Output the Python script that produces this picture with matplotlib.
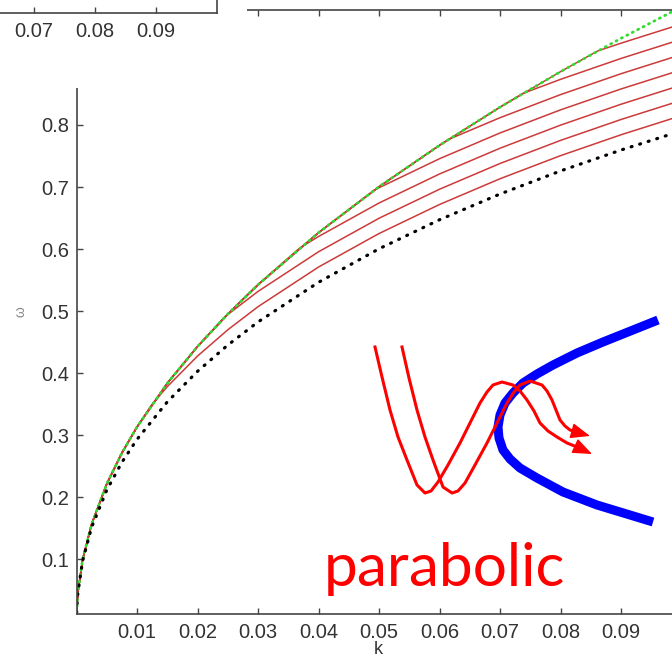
#Dispersion curves with a parabolic-caustic sketch on top.
import matplotlib
matplotlib.use("Agg")
import matplotlib.pyplot as plt
from matplotlib.patches import Rectangle

#Wavenumber samples read along the k axis.
k = [0.00002, 0.0002, 0.001, 0.0025, 0.005, 0.0075, 0.01, 0.015, 0.02, 0.025,
     0.03, 0.04, 0.05, 0.06, 0.07, 0.08, 0.09, 0.1]

#Upper (green dotted) curve.
omega_green = [0.0140, 0.0443, 0.0990, 0.1566, 0.2215, 0.2713, 0.3132, 0.3836, 0.4429, 0.4952,
               0.5425, 0.6264, 0.7004, 0.7672, 0.8287, 0.8859, 0.9396, 0.9905]

#Lower (black dotted) curve.
omega_black = [0.0140, 0.0439, 0.0971, 0.1516, 0.2115, 0.2563, 0.2932, 0.3536, 0.4029, 0.4452,
               0.4825, 0.5464, 0.6004, 0.6472, 0.6887, 0.7259, 0.7596, 0.7905]

#Red family: each one runs on the green curve, then peels off below it.
red_k = [
    [0.00002, 0.0002, 0.001, 0.0025, 0.005, 0.0075, 0.01, 0.0123,
     0.015, 0.02, 0.025, 0.03, 0.04, 0.05, 0.06, 0.07, 0.08, 0.09, 0.1],
    [0.00002, 0.0002, 0.001, 0.0025, 0.005, 0.0075, 0.01, 0.015, 0.02, 0.0246,
     0.025, 0.03, 0.04, 0.05, 0.06, 0.07, 0.08, 0.09, 0.1],
    [0.00002, 0.0002, 0.001, 0.0025, 0.005, 0.0075, 0.01, 0.015, 0.02, 0.025, 0.03, 0.0369,
     0.04, 0.05, 0.06, 0.07, 0.08, 0.09, 0.1],
    [0.00002, 0.0002, 0.001, 0.0025, 0.005, 0.0075, 0.01, 0.015, 0.02, 0.025, 0.03, 0.04, 0.0492,
     0.05, 0.06, 0.07, 0.08, 0.09, 0.1],
    [0.00002, 0.0002, 0.001, 0.0025, 0.005, 0.0075, 0.01, 0.015, 0.02, 0.025, 0.03, 0.04, 0.05,
     0.06, 0.0615, 0.07, 0.08, 0.09, 0.1],
    [0.00002, 0.0002, 0.001, 0.0025, 0.005, 0.0075, 0.01, 0.015, 0.02, 0.025, 0.03, 0.04, 0.05,
     0.06, 0.07, 0.0738, 0.08, 0.09, 0.1],
    [0.00002, 0.0002, 0.001, 0.0025, 0.005, 0.0075, 0.01, 0.015, 0.02, 0.025, 0.03, 0.04, 0.05,
     0.06, 0.07, 0.08, 0.0861, 0.09, 0.1],
]
red_omega = [
    [0.0140, 0.0443, 0.0990, 0.1566, 0.2215, 0.2713, 0.3132, 0.3474,
     0.3782, 0.4275, 0.4698, 0.5071, 0.5710, 0.6250, 0.6718, 0.7133, 0.7505, 0.7842, 0.8151],
    [0.0140, 0.0443, 0.0990, 0.1566, 0.2215, 0.2713, 0.3132, 0.3836, 0.4429, 0.4913,
     0.4944, 0.5317, 0.5956, 0.6496, 0.6964, 0.7379, 0.7751, 0.8088, 0.8397],
    [0.0140, 0.0443, 0.0990, 0.1566, 0.2215, 0.2713, 0.3132, 0.3836, 0.4429, 0.4952, 0.5425, 0.6017,
     0.6202, 0.6742, 0.7210, 0.7625, 0.7997, 0.8334, 0.8643],
    [0.0140, 0.0443, 0.0990, 0.1566, 0.2215, 0.2713, 0.3132, 0.3836, 0.4429, 0.4952, 0.5425, 0.6264, 0.6947,
     0.6988, 0.7456, 0.7871, 0.8243, 0.8580, 0.8889],
    [0.0140, 0.0443, 0.0990, 0.1566, 0.2215, 0.2713, 0.3132, 0.3836, 0.4429, 0.4952, 0.5425, 0.6264, 0.7004,
     0.7672, 0.7767, 0.8117, 0.8489, 0.8826, 0.9135],
    [0.0140, 0.0443, 0.0990, 0.1566, 0.2215, 0.2713, 0.3132, 0.3836, 0.4429, 0.4952, 0.5425, 0.6264, 0.7004,
     0.7672, 0.8287, 0.8509, 0.8735, 0.9072, 0.9381],
    [0.0140, 0.0443, 0.0990, 0.1566, 0.2215, 0.2713, 0.3132, 0.3836, 0.4429, 0.4952, 0.5425, 0.6264, 0.7004,
     0.7672, 0.8287, 0.8859, 0.9191, 0.9318, 0.9627],
]

#Tick labels.
x_ticks = [0.01, 0.02, 0.03, 0.04, 0.05, 0.06, 0.07, 0.08, 0.09]
y_ticks = [0.1, 0.2, 0.3, 0.4, 0.5, 0.6, 0.7, 0.8, 0.9]
prev_ticks = [0.07, 0.08, 0.09]   #neighbouring panel peeking in at top left

#Sketch, in picture pixels (x right, y down).
blue_x = [658, 633, 603, 577, 553, 537, 523, 513, 505, 500, 498, 499, 503, 510, 520, 537,
          563, 597, 630, 653]
blue_y = [320, 330, 342, 353, 365, 374, 383, 393, 403, 415, 427, 438, 450, 459, 468, 478,
          492, 505, 515, 522]

waveA_x = [375, 382, 390, 398, 407, 417, 425, 431, 438, 448, 460, 470, 480, 487, 493, 502,
           513, 520, 527, 534, 540, 548, 557, 567, 577]
waveA_y = [347, 377, 410, 437, 460, 485, 493, 491, 482, 465, 443, 423, 403, 392, 385, 382,
           385, 391, 400, 411, 423, 431, 437, 443, 447]
waveA_tip = (592, 454)

waveB_x = [402, 409, 417, 425, 433, 443, 452, 458, 465, 475, 487, 497, 507, 514, 520, 530,
           542, 547, 552, 556, 560, 565, 570, 576]
waveB_y = [347, 378, 410, 437, 460, 487, 493, 491, 483, 465, 443, 423, 403, 392, 385, 381,
           385, 391, 400, 410, 420, 426, 430, 432]
waveB_tip = (590, 436)

W, H = 672, 668
AX_COL = "#444444"
LBL_COL = "#333333"
plt.rcParams["font.family"] = ["Liberation Sans", "DejaVu Sans"]

#Pixel box -> figure fraction rect.
def px(x0, y0, x1, y1):
    return [x0 / W, 1 - y1 / H, (x1 - x0) / W, (y1 - y0) / H]

fig = plt.figure(figsize=(W / 100, H / 100), dpi=100)
fig.patch.set_facecolor("white")

#Main axes (right edge falls just outside the picture).
ax = fig.add_axes(px(76.5, 10, 681.5, 614))
ax.set_xlim(0, 0.1)
ax.set_ylim(0.0118, 0.9853)

for kk, row in zip(red_k, red_omega):
    ax.plot(kk, row, color="#cc3a3a", lw=1.1, solid_joinstyle="round")
ax.plot(k, omega_green, color="#30dc30", lw=2.0, linestyle=(0, (0.4, 1.8)),
        dash_capstyle="round")
ax.plot(k, omega_black, color="black", lw=2.3, linestyle=(0, (0.3, 2.5)),
        dash_capstyle="round")

ax.set_xticks(x_ticks)
ax.set_xticklabels(["%.2f" % v for v in x_ticks])
ax.set_yticks(y_ticks)
ax.set_yticklabels(["%.1f" % v for v in y_ticks])
ax.tick_params(axis="both", direction="in", length=4, width=1, color=AX_COL,
               labelsize=14.5, labelcolor=LBL_COL, top=True, right=True)
ax.tick_params(axis="x", pad=6.5)
ax.tick_params(axis="y", pad=5.5)
for s in ax.spines.values():
    s.set_color(AX_COL)
    s.set_linewidth(1.2)

ax.text((21 - 76.5) / 605, (614 - 312) / 604, "ω", transform=ax.transAxes,
        rotation=90, ha="center", va="center", fontsize=10, color="#888888")
ax.text((378 - 76.5) / 605, (614 - 650) / 604, "k", transform=ax.transAxes,
        ha="center", va="center", fontsize=13, color=LBL_COL)

#White cover where the neighbouring panel sits.
fig.patches.append(Rectangle((0, 1 - 88 / H), 247 / W, 88 / H, transform=fig.transFigure,
                             facecolor="white", edgecolor="none", zorder=1))

#Neighbouring panel: only its bottom-right corner shows.
ax_prev = fig.add_axes(px(-393, -300, 217, 13))
ax_prev.set_zorder(2)
ax_prev.set_facecolor("white")
ax_prev.set_xlim(0, 0.1)
ax_prev.set_xticks(prev_ticks)
ax_prev.set_xticklabels(["%.2f" % v for v in prev_ticks])
ax_prev.set_yticks([])
ax_prev.tick_params(axis="x", direction="in", length=4, width=1, color=AX_COL,
                    labelsize=14.5, labelcolor=LBL_COL, pad=6.5)
ax_prev.spines["top"].set_visible(False)
ax_prev.spines["left"].set_visible(False)
for side in ["bottom", "right"]:
    ax_prev.spines[side].set_color(AX_COL)
    ax_prev.spines[side].set_linewidth(1.2)

#Sketch overlay in picture pixels.
ax_s = fig.add_axes([0, 0, 1, 1])
ax_s.set_zorder(3)
ax_s.patch.set_alpha(0)
ax_s.set_xlim(0, W)
ax_s.set_ylim(H, 0)
ax_s.axis("off")

ax_s.plot(blue_x, blue_y, color="#0000ff", lw=6.5, solid_capstyle="butt",
          solid_joinstyle="round")
for xs, ys, tip in [(waveA_x, waveA_y, waveA_tip), (waveB_x, waveB_y, waveB_tip)]:
    ax_s.plot(xs, ys, color="#ff0000", lw=2.2, solid_joinstyle="round")
    ax_s.annotate("", xy=tip, xytext=(xs[-1], ys[-1]),
                  arrowprops=dict(arrowstyle="-|>,head_length=1.0,head_width=0.4",
                                  mutation_scale=12, color="#ff0000", lw=1.0,
                                  shrinkA=0, shrinkB=0))

ax_s.text(444.5, 586, "parabolic", ha="center", va="baseline", color="#ff0000",
          fontsize=43.5, family=["Lato", "DejaVu Sans"])

fig.savefig("out.png", dpi=100)
